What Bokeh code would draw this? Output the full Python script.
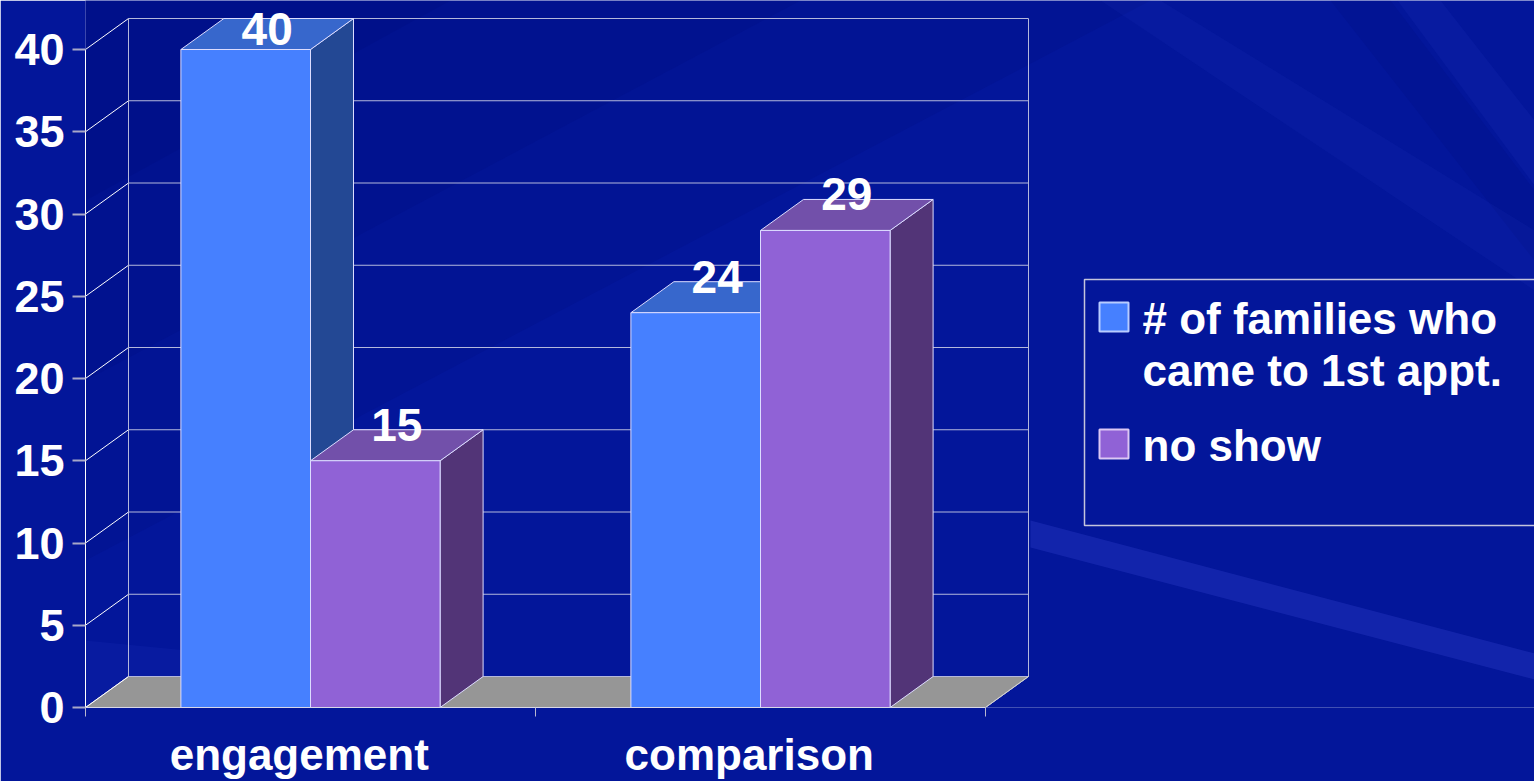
from bokeh.plotting import figure
from bokeh.models import Range1d, FixedTicker, LinearAxis
from bokeh.embed import file_html
from bokeh.resources import INLINE
from bokeh.core.properties import value

# ---------------- data ----------------
categories = ["engagement", "comparison"]
came_to_first = [40, 24]
no_show = [15, 29]
series_labels = [["# of families who", "came to 1st appt."], ["no show"]]
y_ticks = [0, 5, 10, 15, 20, 25, 30, 35, 40]

# ---------------- styling / geometry ----------------
W, H = 1534, 781
LEFT, BOTTOM = 85, 74
PX_X = 450.0          # pixels per category
PX_Y = 16.45          # pixels per unit value
DX = 43 / PX_X        # 3D depth offset (x, category units)
DY = 31 / PX_Y        # 3D depth offset (y, value units)
BAR_W = 0.288
YMAX = max(y_ticks)
NCAT = len(categories)

BG = "#03169a"
FONT = value("Liberation Sans")
EDGE = "#dcdcff"
GRID = "#b4b8dc"
BLUE = ("#4680ff", "#3767cc", "#234894")    # front, top, side
PURPLE = ("#9062d6", "#7250aa", "#523477")

p = figure(width=W, height=H, output_backend="svg", toolbar_location=None,
           x_range=Range1d(0, (W - LEFT) / PX_X), y_range=Range1d(0, (H - BOTTOM) / PX_Y),
           min_border_left=LEFT, min_border_bottom=BOTTOM, min_border_top=0, min_border_right=0,
           x_axis_type=None, y_axis_type=None,
           background_fill_color=BG, border_fill_color=BG, outline_line_color=None)


def sx(v):
    return (v - LEFT) / PX_X


def sy(v):
    return (H - BOTTOM - v) / PX_Y


def poly(shapes):
    return [[sx(a) for a, b in s] for s in shapes], [[sy(b) for a, b in s] for s in shapes]


# ---------------- background streaks (decorative, soft) ----------------
dark = [
    [(85, 0), (1150, 0), (85, 560)],
    [(85, 0), (800, 0), (85, 380)],
    [(85, 0), (450, 0), (85, 200)],
    [(1330, 0), (1390, 0), (1534, 190), (1534, 260)],
]
light = [
    [(1030, 520), (1534, 653), (1534, 679), (1030, 547)],
    [(1397, 0), (1440, 0), (1534, 120), (1534, 185)],
    [(1100, 0), (1160, 0), (1534, 230), (1534, 290)],
    [(85, 640), (700, 700), (700, 707), (85, 707)],
]
dx_, dy_ = poly(dark)
p.patches(dx_, dy_, fill_color="#000c6a", fill_alpha=0.12, line_color=None)
lx_, ly_ = poly(light)
p.patches(lx_, ly_, fill_color="#3040cc", fill_alpha=[0.35, 0.12, 0.1, 0.12], line_color=None)

# ---------------- walls & gridlines ----------------
xmax = float(NCAT)
p.patch([0, xmax, xmax + DX, DX], [0, 0, DY, DY], fill_color="#969696", line_color="#d0d0d0", line_width=1)

back_x0 = [DX] * len(y_ticks)
back_x1 = [xmax + DX] * len(y_ticks)
back_y = [t + DY for t in y_ticks]
p.segment(x0=back_x0, y0=back_y, x1=back_x1, y1=back_y, line_color=GRID, line_width=1)
p.segment(x0=[0] * len(y_ticks), y0=y_ticks, x1=back_x0, y1=back_y, line_color="white", line_width=1)
p.segment(x0=[DX, xmax + DX], y0=[DY, DY], x1=[DX, xmax + DX], y1=[YMAX + DY, YMAX + DY],
          line_color=GRID, line_width=1)
p.segment(x0=[xmax], y0=[0], x1=[xmax + DX], y1=[DY], line_color="#d0d0d0", line_width=1)

# ---------------- 3D bars ----------------
def faces(x0s, vals):
    front_x, front_y, top_x, top_y, side_x, side_y = [], [], [], [], [], []
    for x0, v in zip(x0s, vals):
        x1 = x0 + BAR_W
        front_x.append([x0, x1, x1, x0]); front_y.append([0, 0, v, v])
        top_x.append([x0, x1, x1 + DX, x0 + DX]); top_y.append([v, v, v + DY, v + DY])
        side_x.append([x1, x1 + DX, x1 + DX, x1]); side_y.append([0, DY, v + DY, v])
    return front_x, front_y, top_x, top_y, side_x, side_y


for k, (vals, cols) in enumerate([(came_to_first, BLUE), (no_show, PURPLE)]):
    x0s = [i + 0.5 - BAR_W + k * BAR_W for i in range(NCAT)]
    fx, fy, tx, ty, sxs, sys_ = faces(x0s, vals)
    p.patches(sxs, sys_, fill_color=cols[2], line_color=EDGE, line_width=1)
    p.patches(tx, ty, fill_color=cols[1], line_color=EDGE, line_width=1)
    p.patches(fx, fy, fill_color=cols[0], line_color=EDGE, line_width=1)
    # value labels
    lx = [x0 + BAR_W / 2 + DX / 2 for x0 in x0s]
    ly = [min(v + DY + 5 / PX_Y, (H - BOTTOM - 28) / PX_Y) for v in vals]
    p.text(x=lx, y=ly, text=[str(v) for v in vals], text_font=FONT, text_font_style="bold",
           text_font_size="46px", text_color="white", text_align="center", text_baseline="middle")

# ---------------- axes ----------------
yax = LinearAxis(ticker=FixedTicker(ticks=y_ticks), bounds=(0, YMAX),
                 axis_line_color="white", axis_line_width=1,
                 major_tick_line_color="#a8a8c8", major_tick_line_width=2, major_tick_out=13, major_tick_in=0,
                 minor_tick_line_color=None,
                 major_label_standoff=8, major_label_text_font="Liberation Sans",
                 major_label_text_font_style="bold", major_label_text_font_size="45px",
                 major_label_text_color="white")
p.add_layout(yax, "left")

label_pos = [round(i + 0.475, 3) for i in range(NCAT)]
xax = LinearAxis(ticker=FixedTicker(ticks=label_pos, minor_ticks=list(range(NCAT + 1))),
                 bounds=(0, xmax),
                 axis_line_color="#d8d8e8", axis_line_width=1,
                 major_tick_line_color=None, major_tick_out=0, major_tick_in=0,
                 minor_tick_line_color="#b8b8d0", minor_tick_out=9, minor_tick_in=0,
                 major_label_overrides={pos: name for pos, name in zip(label_pos, categories)},
                 major_label_standoff=13, major_label_text_font="Liberation Sans",
                 major_label_text_font_style="bold", major_label_text_font_size="44px",
                 major_label_text_color="white")
p.add_layout(xax, "below")

# ---------------- legend (drawn) ----------------
p.patch([sx(1084), sx(1600), sx(1600), sx(1084)], [sy(279), sy(279), sy(525), sy(525)],
        fill_alpha=0, line_color="#c4c4dc", line_width=1.5)
sw_cols = [(BLUE[0], "#b8ccff"), (PURPLE[0], "#dcc8f4")]
sw_top = [302, 429]
for (fc, lc), top, lines in zip(sw_cols, sw_top, series_labels):
    p.patch([sx(1099), sx(1128), sx(1128), sx(1099)], [sy(top), sy(top), sy(top + 29), sy(top + 29)],
            fill_color=fc, line_color=lc, line_width=2)
    ys = [sy(top + 16 + 52 * j) for j in range(len(lines))]
    p.text(x=[sx(1142)] * len(lines), y=ys, text=lines, text_font=FONT, text_font_style="bold",
           text_font_size="44px", text_color="white", text_align="left", text_baseline="middle")

open("out.html", "w").write(file_html(p, INLINE))
